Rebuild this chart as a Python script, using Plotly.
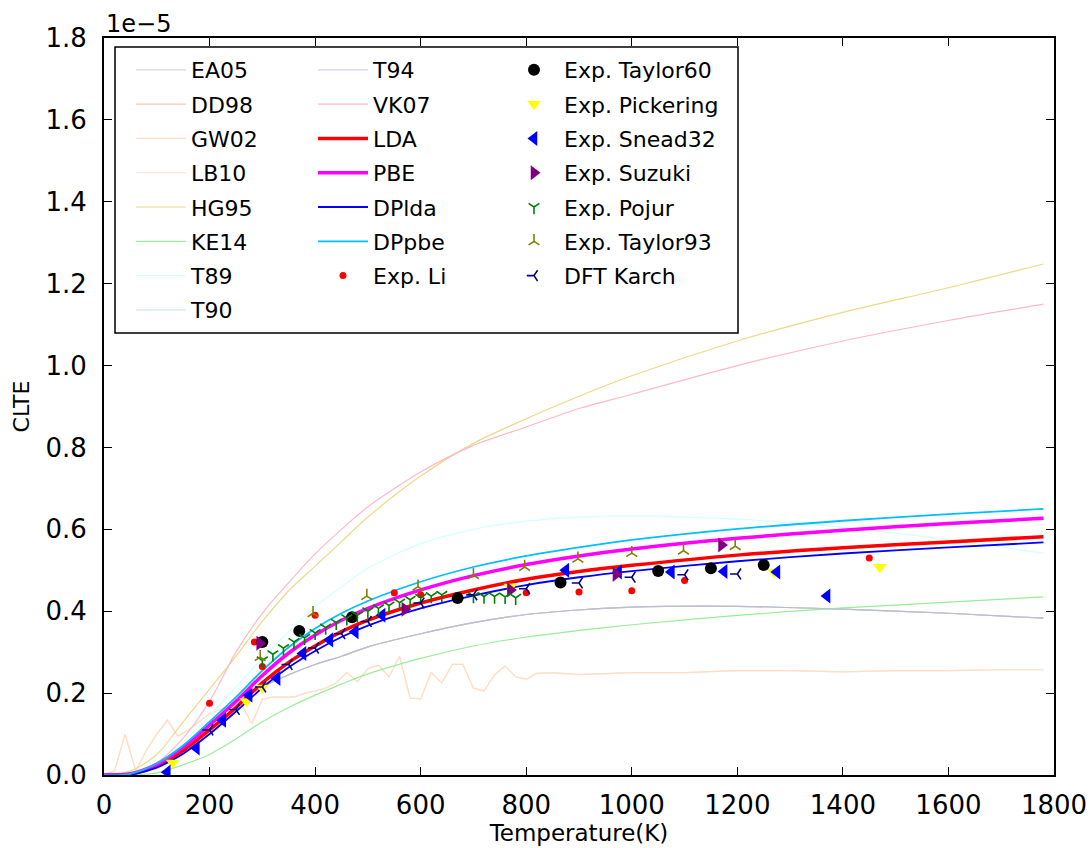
import plotly.graph_objects as go

# ---------------- data (CLTE in units of 1e-5) ----------------
T_grid = [0, 50, 100, 150, 200, 250, 300, 350, 400, 450, 500, 600, 700, 800, 900, 1000, 1200, 1400, 1600, 1780]

cluster_vals = [0.0, 0.002, 0.02, 0.065, 0.125, 0.175, 0.215, 0.245, 0.27, 0.29, 0.313, 0.345, 0.372, 0.392, 0.403, 0.41, 0.412, 0.405, 0.395, 0.383]
ea05 = cluster_vals
dd98 = cluster_vals
t90 = cluster_vals
t94 = cluster_vals

T_noisy = [0, 20, 40, 60, 80, 100, 120, 140, 160, 180, 200, 220, 240, 260, 280, 300, 320, 340, 360, 380,
           400, 420, 440, 460, 480, 500, 520, 540, 560, 580, 600, 620, 640, 660, 680, 700, 720, 740, 760,
           780, 800, 820, 850, 900, 1000, 1100, 1200, 1300, 1400, 1500, 1600, 1700, 1780]
gw02 = [0.0, 0.01, 0.10, 0.01, 0.06, 0.10, 0.134, 0.095, 0.11, 0.13, 0.15, 0.16, 0.17, 0.175, 0.125, 0.185, 0.19, 0.19, 0.19, 0.20,
        0.205, 0.212, 0.225, 0.25, 0.228, 0.26, 0.268, 0.24, 0.29, 0.188, 0.186, 0.25, 0.225, 0.27, 0.27, 0.212, 0.205, 0.245, 0.266,
        0.24, 0.234, 0.248, 0.25, 0.245, 0.25, 0.25, 0.255, 0.255, 0.252, 0.255, 0.255, 0.257, 0.257]
lb10 = gw02

hg95 = [0.0, 0.01, 0.05, 0.13, 0.21, 0.29, 0.375, 0.45, 0.51, 0.57, 0.63, 0.73, 0.81, 0.87, 0.925, 0.975, 1.06, 1.13, 1.19, 1.248]
ke14 = [0.0, 0.0, 0.005, 0.025, 0.05, 0.088, 0.13, 0.165, 0.195, 0.222, 0.247, 0.285, 0.315, 0.337, 0.353, 0.367, 0.39, 0.408, 0.422, 0.435]
t89 = [0.0, 0.003, 0.03, 0.08, 0.145, 0.215, 0.285, 0.35, 0.41, 0.46, 0.505, 0.565, 0.6, 0.62, 0.63, 0.633, 0.625, 0.605, 0.575, 0.542]
vk07 = [0.0, 0.003, 0.03, 0.09, 0.18, 0.30, 0.395, 0.47, 0.54, 0.60, 0.655, 0.74, 0.805, 0.85, 0.895, 0.93, 1.0, 1.06, 1.11, 1.15]
lda = [0.0, 0.002, 0.022, 0.06, 0.11, 0.165, 0.225, 0.275, 0.315, 0.35, 0.378, 0.42, 0.452, 0.478, 0.497, 0.512, 0.537, 0.555, 0.569, 0.582]
pbe = [0.0, 0.003, 0.026, 0.068, 0.122, 0.18, 0.243, 0.298, 0.342, 0.378, 0.407, 0.452, 0.487, 0.514, 0.535, 0.552, 0.578, 0.598, 0.614, 0.627]
dplda = [0.0, 0.001, 0.018, 0.052, 0.10, 0.155, 0.213, 0.263, 0.303, 0.337, 0.365, 0.407, 0.438, 0.464, 0.483, 0.498, 0.522, 0.541, 0.556, 0.568]
dppbe = [0.0, 0.003, 0.028, 0.072, 0.13, 0.19, 0.255, 0.312, 0.358, 0.395, 0.425, 0.472, 0.508, 0.535, 0.556, 0.574, 0.601, 0.621, 0.637, 0.65]

li_T = [200, 285, 300, 400, 550, 600, 670, 800, 900, 1000, 1100, 1450]
li_v = [0.175, 0.325, 0.265, 0.39, 0.445, 0.44, 0.435, 0.445, 0.447, 0.45, 0.475, 0.53]

taylor60_T = [300, 370, 470, 670, 865, 1050, 1150, 1250]
taylor60_v = [0.325, 0.352, 0.385, 0.432, 0.47, 0.498, 0.505, 0.513]

pickering_T = [130, 270, 300, 770, 1270, 1470]
pickering_v = [0.03, 0.18, 0.213, 0.46, 0.495, 0.508]

snead_T = [120, 175, 225, 275, 328, 377, 428, 476, 527, 875, 975, 1075, 1175, 1275, 1370]
snead_v = [0.007, 0.066, 0.134, 0.195, 0.236, 0.297, 0.33, 0.35, 0.39, 0.5, 0.496, 0.496, 0.497, 0.496, 0.437]

suzuki_T = [295, 570, 770, 970, 1170]
suzuki_v = [0.322, 0.405, 0.452, 0.49, 0.562]

pojur_T = [300, 320, 340, 360, 380, 400, 420, 440, 460, 480, 500, 520, 540, 560, 580, 600, 620, 640, 700, 720, 740, 760, 780]
pojur_v = [0.28, 0.295, 0.31, 0.325, 0.335, 0.347, 0.36, 0.372, 0.383, 0.39, 0.40, 0.407, 0.414, 0.421, 0.428, 0.433, 0.437, 0.44, 0.437, 0.436, 0.436, 0.435, 0.433]

taylor93_T = [296, 396, 498, 595, 700, 797, 898, 1000, 1098, 1196]
taylor93_v = [0.288, 0.395, 0.437, 0.46, 0.488, 0.508, 0.528, 0.542, 0.548, 0.559]

karch_T = [200, 250, 300, 350, 400, 450, 500, 600, 700, 800, 900, 1000, 1100, 1200]
karch_v = [0.11, 0.16, 0.215, 0.27, 0.31, 0.345, 0.375, 0.42, 0.44, 0.455, 0.469, 0.483, 0.489, 0.491]

x_ticks = [0, 200, 400, 600, 800, 1000, 1200, 1400, 1600, 1800]
y_ticks = [0.0, 0.2, 0.4, 0.6, 0.8, 1.0, 1.2, 1.4, 1.6, 1.8]
y_ticktext = ["0.0", "0.2", "0.4", "0.6", "0.8", "1.0", "1.2", "1.4", "1.6", "1.8"]

# ---------------- figure ----------------
FONT = "DejaVu Sans"
fig = go.Figure()


def add_line(name, x, y, color, width, legend, spline=True):
    fig.add_trace(go.Scatter(
        x=x, y=y, mode="lines", name=name,
        line=dict(color=color, width=width, shape="spline" if spline else "linear", smoothing=0.8),
        legend=legend, legendgroup=name))


def add_pts(name, x, y, symbol, color, size, legend, lw=0, lc=None):
    fig.add_trace(go.Scatter(
        x=x, y=y, mode="markers", name=name,
        marker=dict(symbol=symbol, color=color, size=size,
                    line=dict(width=lw, color=lc if lc else color)),
        legend=legend, legendgroup=name))


add_line("EA05", T_grid, ea05, "rgba(195,195,200,0.6)", 1.2, "legend")
add_line("DD98", T_grid, dd98, "rgba(244,150,120,0.55)", 1.2, "legend")
add_line("GW02", T_noisy, gw02, "rgba(255,205,175,0.7)", 1.2, "legend", spline=False)
add_line("LB10", T_noisy, lb10, "rgba(255,222,195,0.7)", 1.2, "legend", spline=False)
add_line("HG95", T_grid, hg95, "#ecd985", 1.2, "legend")
add_line("KE14", T_grid, ke14, "#98ee98", 1.2, "legend")
add_line("T89", T_grid, t89, "#d4ffff", 1.2, "legend")
add_line("T90", T_grid, t90, "rgba(173,216,230,0.6)", 1.2, "legend")
add_line("T94", T_grid, t94, "rgba(170,185,220,0.6)", 1.2, "legend2")
add_line("VK07", T_grid, vk07, "#ffb8c4", 1.2, "legend2")
add_line("LDA", T_grid, lda, "#ff0000", 3.5, "legend2")
add_line("PBE", T_grid, pbe, "#ff00ff", 3.5, "legend2")
add_line("DPlda", T_grid, dplda, "#0000ff", 1.8, "legend2")
add_line("DPpbe", T_grid, dppbe, "#00bfff", 1.8, "legend2")
add_pts("Exp. Li", li_T, li_v, "circle", "#ff0000", 7, "legend2")

add_pts("Exp. Taylor60", taylor60_T, taylor60_v, "circle", "#000000", 12, "legend3")
add_pts("Exp. Pickering", pickering_T, pickering_v, "triangle-down", "#ffff00", 12, "legend3")
add_pts("Exp. Snead32", snead_T, snead_v, "triangle-left", "#0000ff", 13, "legend3")
add_pts("Exp. Suzuki", suzuki_T, suzuki_v, "triangle-right", "#800080", 13, "legend3")
add_pts("Exp. Pojur", pojur_T, pojur_v, "y-down", "#008000", 9, "legend3", lw=1.6, lc="#008000")
add_pts("Exp. Taylor93", taylor93_T, taylor93_v, "y-up", "#808000", 9, "legend3", lw=1.6, lc="#808000")
add_pts("DFT Karch", karch_T, karch_v, "y-left", "#000080", 9, "legend3", lw=1.6, lc="#000080")

# ---------------- layout ----------------
L, R, TOP, B = 104, 37, 38, 73
W, H = 1091, 848
pw, ph = W - L - R, H - TOP - B


def px_x(px):
    return (px - L) / pw


def px_y(py):
    return (H - B - py) / ph


leg_common = dict(bgcolor="rgba(0,0,0,0)", borderwidth=0, traceorder="grouped",
                  tracegroupgap=2.7, itemwidth=50, font=dict(family=FONT, size=22, color="black"),
                  xanchor="left", yanchor="top", itemclick=False)

fig.update_layout(
    width=W, height=H,
    margin=dict(l=L, r=R, t=TOP, b=B, autoexpand=False),
    paper_bgcolor="white", plot_bgcolor="white",
    font=dict(family=FONT, color="black"),
    showlegend=True,
    legend=dict(x=px_x(131), y=px_y(49), **leg_common),
    legend2=dict(x=px_x(313), y=px_y(49), **leg_common),
    legend3=dict(x=px_x(504), y=px_y(49), **leg_common),
    xaxis=dict(range=[0, 1800], tickvals=x_ticks, ticks="inside", ticklen=8, tickwidth=1,
               tickcolor="black", showline=True, linecolor="black", linewidth=1.8, mirror="ticks",
               showgrid=False, zeroline=False, tickfont=dict(family=FONT, size=26, color="black"),
               ticklabelstandoff=6,
               title=dict(text="Temperature(K)", font=dict(family=FONT, size=23, color="black"), standoff=6)),
    yaxis=dict(range=[0, 1.8], tickvals=y_ticks, ticktext=y_ticktext, ticks="inside", ticklen=8, tickwidth=1,
               tickcolor="black", showline=True, linecolor="black", linewidth=1.8, mirror="ticks",
               showgrid=False, zeroline=False, tickfont=dict(family=FONT, size=26, color="black"),
               ticklabelstandoff=10,
               title=dict(text="CLTE", font=dict(family=FONT, size=22, color="black"), standoff=10)),
    shapes=[dict(type="rect", xref="paper", yref="paper",
                 x0=px_x(115), x1=px_x(738), y0=px_y(333), y1=px_y(47),
                 line=dict(color="black", width=1.5), fillcolor="white", layer="above")],
    annotations=[dict(text="1e\u22125", xref="paper", yref="paper", x=0.0, y=1.0,
                      xanchor="left", yanchor="bottom", showarrow=False, yshift=-2,
                      font=dict(family=FONT, size=24, color="black"))],
)

fig.write_html("out.html")
